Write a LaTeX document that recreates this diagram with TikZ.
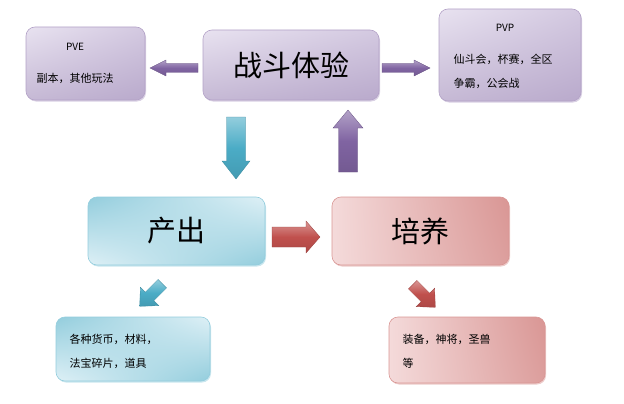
\documentclass[tikz,border=0pt]{standalone}
\usepackage{fontspec}
\setmainfont{Noto Sans CJK SC}
\usetikzlibrary{shadows,shadings}
\definecolor{pur}{RGB}{128,100,162}
\definecolor{purl}{RGB}{232,226,240}
\definecolor{cy}{RGB}{75,172,198}
\definecolor{cyl}{RGB}{222,240,246}
\definecolor{rd}{RGB}{192,80,77}
\definecolor{rdl}{RGB}{244,218,218}
\tikzset{
 box/.style={rounded corners=9pt, draw=#1!60, line width=0.6pt, drop shadow={shadow xshift=1pt,shadow yshift=-1.5pt,fill=#1!50,opacity=0.6}},
 pbox/.style={box=pur, upper left=purl, lower right=pur!55, upper right=purl!80!pur, lower left=pur!45},
 cbox/.style={box=cy, upper left=cy!60, lower right=cy!60, upper right=cyl, lower left=cyl},
 rbox/.style={box=rd, upper left=rdl, lower right=rd!55, upper right=rd!60, lower left=rdl},
 arr/.style={draw=#1!80!black, line width=0.3pt, top color=#1!60, bottom color=#1!90!black, middle color=#1},
 txt/.style={font=\fontsize{11}{24}\selectfont, align=left}
}
% #1 colour, #2 centre, #3 angle, #4 length, #5 shaft width, #6 head width, #7 head length
\newcommand\bigarr[7]{%
 \begin{scope}[shift={#2}, rotate=#3]
 \path[arr=#1] (-#4/2,-#5/2) -- (#4/2-#7,-#5/2) -- (#4/2-#7,-#6/2) -- (#4/2,0) -- (#4/2-#7,#6/2) -- (#4/2-#7,#5/2) -- (-#4/2,#5/2) -- cycle;
 \end{scope}}
\begin{document}
\begin{tikzpicture}[x=1pt,y=-1pt]
\useasboundingbox (0,0) rectangle (624,404);
\node[pbox, minimum width=119pt, minimum height=73pt] (pve) at (85.5,63.5) {};
\node[font=\fontsize{10}{12}\selectfont] at (75,47) {PVE};
\node[txt] at (75,78) {副本，其他玩法};
\node[pbox, minimum width=176pt, minimum height=70pt, font=\fontsize{29}{32}\selectfont] (zd) at (291,65) {战斗体验};
\node[pbox, minimum width=142pt, minimum height=92pt] (pvp) at (510,55) {};
\node[font=\fontsize{10}{12}\selectfont] at (505,28) {PVP};
\node[txt, anchor=west] at (450,71) {仙斗会，杯赛，全区\\争霸，公会战};
\node[cbox, minimum width=177pt, minimum height=68pt, font=\fontsize{29}{32}\selectfont] (cc) at (176.5,231) {产出};
\node[rbox, minimum width=177pt, minimum height=68pt, font=\fontsize{29}{32}\selectfont] (py) at (420.5,231) {培养};
\node[cbox, minimum width=154pt, minimum height=64pt] (hb) at (133,349) {};
\node[txt, anchor=west] at (66,351) {各种货币，材料，\\法宝碎片，道具};
\node[rbox, minimum width=156pt, minimum height=66pt] (zb) at (467,350) {};
\node[txt, anchor=west] at (399,351) {装备，神将，圣兽\\等};
% arrows
\bigarr{pur}{(174,68)}{180}{48}{9}{16}{16}
\bigarr{pur}{(406,68)}{0}{48}{9}{16}{16}
\bigarr{cy}{(236,148)}{270}{62}{19}{28}{18}
\bigarr{pur}{(348,141)}{90}{62}{19}{30}{18}
\bigarr{rd}{(296,237)}{0}{48}{20}{32}{14}
\bigarr{cy}{(151,295)}{225}{32}{12}{26}{14}
\bigarr{rd}{(424,296)}{315}{32}{12}{26}{14}
\end{tikzpicture}
\end{document}
